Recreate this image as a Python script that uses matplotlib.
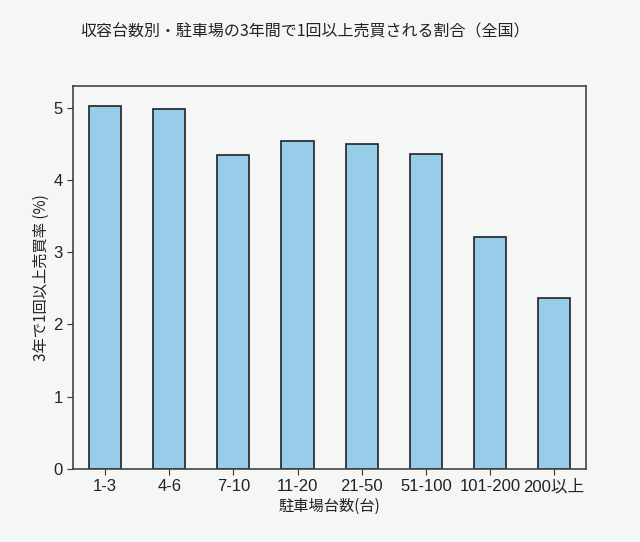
import numpy as np
import matplotlib.pyplot as plt

plt.rcParams['font.family'] = ['Noto Sans CJK JP', 'DejaVu Sans']

# 駐車場の収容台数区分と売買率 (%)
categories = ['1-3', '4-6', '7-10', '11-20', '21-50', '51-100', '101-200', '200以上']
rates = [5.03, 4.98, 4.34, 4.54, 4.50, 4.36, 3.21, 2.36]

bg = '#f5f6f6'
tick_font = ['Liberation Sans', 'Noto Sans CJK JP']
fig = plt.figure(figsize=(6.4, 5.42), dpi=100, facecolor=bg)
ax = fig.add_axes([0.114, 0.135, 0.802, 0.706], facecolor=bg)

x = np.arange(len(categories))
ax.bar(x, rates, width=0.5, color='#98cde9', edgecolor='#222222', linewidth=1.2)

ax.set_xlim(-0.5, len(categories) - 0.5)
ax.set_ylim(0, 5.3)
ax.set_xticks(x)
ax.set_xticklabels(categories)
ax.set_yticks(range(6))
ax.tick_params(colors='#333333', length=4, labelsize=12)
for lab in ax.get_xticklabels() + ax.get_yticklabels():
    lab.set_family(tick_font)
    lab.set_color('#222222')

for s in ax.spines.values():
    s.set_color('#444444')
    s.set_linewidth(1.2)

ax.set_xlabel('駐車場台数(台)', fontsize=11, color='#222222', labelpad=2)
ax.set_ylabel('3年で1回以上売買率 (%)', fontsize=11, color='#222222')
ax.yaxis.set_label_coords(-0.045, 0.5)
fig.text(305 / 640, 1 - 32 / 542, '収容台数別・駐車場の3年間で1回以上売買される割合（全国）',
         ha='center', va='center', fontsize=11.5, color='#222222')

fig.savefig('out.png', dpi=100, facecolor=bg)
